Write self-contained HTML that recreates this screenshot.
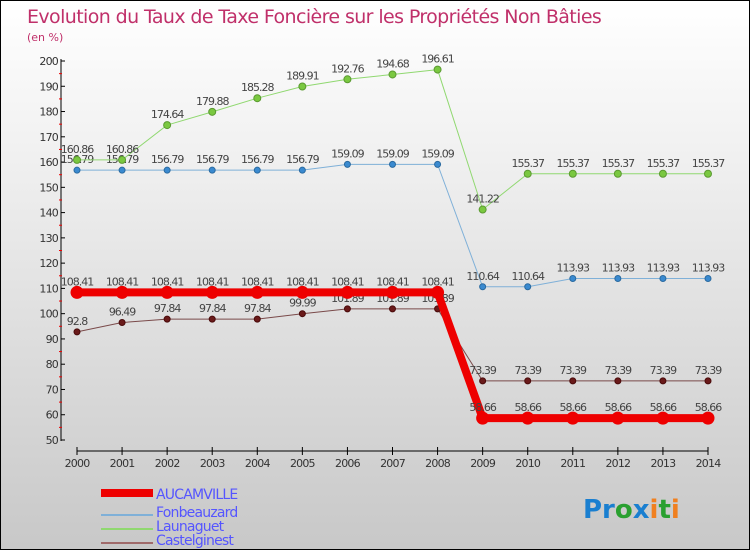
<!DOCTYPE html>
<html><head><meta charset="utf-8"><style>
body{margin:0}
#c{width:750px;height:550px;position:relative;overflow:hidden;box-sizing:border-box;border:1px solid #000;background:linear-gradient(#ffffff,#f2f2f2 25%,#c8c8c8);font-family:"DejaVu Sans","Liberation Sans",sans-serif}
svg text{font-family:"DejaVu Sans","Liberation Sans",sans-serif}
</style></head><body>
<div id="c">
<svg width="750" height="550" id="s">
<text x="26" y="22" font-size="19" fill="#c0306a" style="letter-spacing:-0.6px">Evolution du Taux de Taxe Foncière sur les Propriétés Non Bâties</text>
<text x="26" y="40" font-size="11" fill="#c0306a">(en %)</text>
<g id="ax"></g><g id="ser"></g>
<g>
<rect x="100" y="488" width="52" height="8" fill="#e00"/>
<text x="155" y="498" font-size="14" fill="#5555ff" style="letter-spacing:-0.8px">AUCAMVILLE</text>
<rect x="100" y="513" width="52" height="2" fill="#7fb0d8"/>
<text x="155" y="516" font-size="14" fill="#5555ff" style="letter-spacing:-0.8px">Fonbeauzard</text>
<rect x="100" y="527" width="52" height="2" fill="#90d870"/>
<text x="155" y="530" font-size="14" fill="#5555ff" style="letter-spacing:-0.8px">Launaguet</text>
<rect x="100" y="541" width="52" height="2" fill="#a06a6a"/>
<text x="155" y="544" font-size="14" fill="#5555ff" style="letter-spacing:-0.8px">Castelginest</text>
</g>
<text x="582" y="517" font-size="26" font-weight="bold"><tspan fill="#1a7fd0">Pr</tspan><tspan fill="#2aa030">o</tspan><tspan fill="#1a7fd0">x</tspan><tspan fill="#f08020">i</tspan><tspan fill="#2aa030">t</tspan><tspan fill="#f08020">i</tspan></text>
</svg>
<script>
const years=["2000","2001","2002","2003","2004","2005","2006","2007","2008","2009","2010","2011","2012","2013","2014"];
const yTicks=[50,60,70,80,90,100,110,120,130,140,150,160,170,180,190,200];
const aucamville=[108.41,108.41,108.41,108.41,108.41,108.41,108.41,108.41,108.41,58.66,58.66,58.66,58.66,58.66,58.66];
const fonbeauzard=[156.79,156.79,156.79,156.79,156.79,156.79,159.09,159.09,159.09,110.64,110.64,113.93,113.93,113.93,113.93];
const launaguet=[160.86,160.86,174.64,179.88,185.28,189.91,192.76,194.68,196.61,141.22,155.37,155.37,155.37,155.37,155.37];
const castelginest=[92.8,96.49,97.84,97.84,97.84,99.99,101.89,101.89,101.89,73.39,73.39,73.39,73.39,73.39,73.39];
const NS="http://www.w3.org/2000/svg";
const X=i=>76+i*(631/14);
const Y=v=>439-(v-50)*(379/150);
function mk(t,a,p){const e=document.createElementNS(NS,t);for(const k in a)e.setAttribute(k,a[k]);p.appendChild(e);return e;}
const ax=document.getElementById('ax'),ser=document.getElementById('ser');
let yl=mk('line',{x1:60,y1:58,x2:60,y2:440,stroke:'#000'},ax);


yTicks.forEach(v=>{mk('line',{x1:60,y1:Y(v),x2:64,y2:Y(v),stroke:'#000'},ax);
 if(v<200)mk('line',{x1:58,y1:Y(v+5),x2:61,y2:Y(v+5),stroke:'#e00'},ax);
 const t=mk('text',{x:57,y:Y(v)+4,'font-size':11,'text-anchor':'end',fill:'#333','letter-spacing':'-0.8'},ax);
 
 
 t.textContent=v;});
let xl=mk('line',{x1:76,y1:450,x2:707,y2:450,stroke:'#000'},ax);


years.forEach((y,i)=>{mk('line',{x1:X(i),y1:446,x2:X(i),y2:454,stroke:'#000'},ax);
 const t=mk('text',{x:X(i),y:466,'font-size':11,'text-anchor':'middle',fill:'#333','letter-spacing':'-0.8'},ax);
 
 
 t.textContent=y;});
function series(d,name,col,w,r,dot,dotStroke){
 const g=mk('g',{},ser);
 
 
 mk('polyline',{points:d.map((v,i)=>X(i)+','+Y(v)).join(' '),fill:'none',stroke:col,'stroke-width':w,'stroke-linejoin':'round'},g);
 d.forEach((v,i)=>{const c=mk('circle',{cx:X(i),cy:Y(v),r:r,fill:dot,stroke:dotStroke,'stroke-width':1},g);
  
  
  const t=mk('text',{x:X(i),y:Y(v)-7,'font-size':11,'text-anchor':'middle',fill:'#444','letter-spacing':'-1'},g);
  
  
  t.textContent=String(v);});
}
series(castelginest,'castelginest','#7a4a4a',1,3,'#6a1a1a','#4a0a0a');
series(fonbeauzard,'fonbeauzard','#7fb0d8',1,3,'#3a8ad0','#2a6aa0');
series(launaguet,'launaguet','#90d870',1,3.5,'#7ac840','#5a9a30');
series(aucamville,'aucamville','#e00',8,6,'#e00','#e00');
</script>
</div></body></html>
